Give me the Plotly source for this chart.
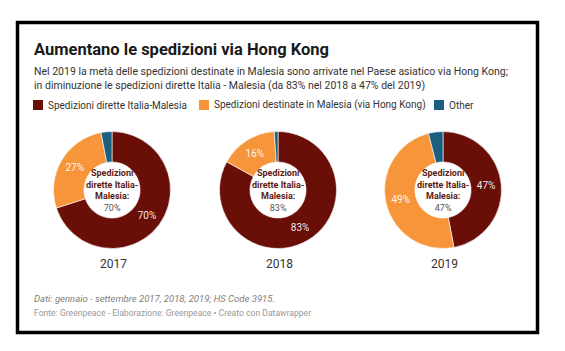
import plotly.graph_objects as go

W, H = 565, 351

years = ["2017", "2018", "2019"]
categories = ["Spedizioni dirette Italia-Malesia",
              "Spedizioni destinate in Malesia (via Hong Kong)",
              "Other"]
direct = [70, 83, 47]
via_hk = [27, 16, 49]
other = [3, 1, 4]

colors = ["#6a0f07", "#f7953b", "#1b5f80"]

title = "Aumentano le spedizioni via Hong Kong"
subtitle1 = "Nel 2019 la metà delle spedizioni destinate in Malesia sono arrivate nel Paese asiatico via Hong Kong;"
subtitle2 = "in diminuzione le spedizioni dirette Italia - Malesia (da 83% nel 2018 a 47% del 2019)"
note = "Dati: gennaio - settembre 2017, 2018, 2019; HS Code 3915."
source = "Fonte: Greenpeace - Elaborazione: Greenpeace • Creato con Datawrapper"

FONT = "Roboto"


def px(x):
    return x / W


def py(y):
    return 1 - y / H


centers_x = [112, 278, 443]
center_y = 190
diam = 117

annotations = []


def add_text(x, y, text, size, color, bold=False, italic=False, xanchor="left"):
    t = text
    if bold:
        t = f"<b>{t}</b>"
    if italic:
        t = f"<i>{t}</i>"
    annotations.append(dict(x=px(x), y=py(y), xref="paper", yref="paper",
                            text=t, showarrow=False, xanchor=xanchor,
                            yanchor="middle",
                            font=dict(family=FONT, size=size, color=color)))


fig = go.Figure()
for i, yr in enumerate(years):
    vals = [direct[i], via_hk[i], other[i]]
    cx = centers_x[i]
    dom_x = [px(cx - diam / 2), px(cx + diam / 2)]
    dom_y = [py(center_y + diam / 2), py(center_y - diam / 2)]
    fig.add_trace(go.Pie(
        labels=categories,
        values=vals,
        text=[f"{v}%" if v >= 5 else "" for v in vals],
        textinfo="text",
        textposition="inside",
        insidetextorientation="horizontal",
        textfont=dict(family=FONT, size=10, color="rgba(255,255,255,0.92)"),
        hole=0.48,
        sort=False,
        direction="clockwise",
        rotation=0,
        marker=dict(colors=colors, line=dict(color="white", width=0.6)),
        domain=dict(x=dom_x, y=dom_y),
        showlegend=False,
        hoverinfo="skip",
    ))
    center_text = ("<b>Spedizioni</b><br><b>dirette Italia-</b><br><b>Malesia:</b><br>"
                   f"<span style='color:#555555'>{direct[i]}%</span>")
    annotations.append(dict(x=(dom_x[0] + dom_x[1]) / 2, y=(dom_y[0] + dom_y[1]) / 2,
                            xref="paper", yref="paper", text=center_text,
                            showarrow=False, xanchor="center", yanchor="middle",
                            align="center",
                            font=dict(family=FONT, size=9, color="#5c1a12")))

add_text(32, 49, title, 16.5, "#1a1a1a", bold=True)
add_text(32, 72, subtitle1, 10.5, "#333333")
add_text(32, 85, subtitle2, 10.5, "#333333")

# legend
legend_sq_x = [33, 199, 434]
legend_y = 105
shapes = []
for i, cat in enumerate(categories):
    x0 = legend_sq_x[i]
    shapes.append(dict(type="rect", xref="paper", yref="paper",
                       x0=px(x0), x1=px(x0 + 10), y0=py(legend_y + 5), y1=py(legend_y - 5),
                       fillcolor=colors[i], line=dict(width=0)))
    add_text(x0 + 13, legend_y, cat, 10, "#333333")

for i, yr in enumerate(years):
    add_text(centers_x[i] + 1, 264, yr, 12, "#333333", xanchor="center")

add_text(32, 298, note, 9.5, "#808080", italic=True)
add_text(32, 313, source, 8.6, "#999999")

# outer frame
shapes.append(dict(type="rect", xref="paper", yref="paper",
                   x0=px(17.5), x1=px(537.5), y0=py(332.5), y1=py(22.5),
                   line=dict(color="black", width=3.5), fillcolor="rgba(0,0,0,0)"))

fig.update_layout(
    width=W, height=H,
    margin=dict(l=0, r=0, t=0, b=0),
    paper_bgcolor="white",
    plot_bgcolor="white",
    annotations=annotations,
    shapes=shapes,
    showlegend=False,
    font=dict(family=FONT),
)

fig.write_html("out.html", config={"displayModeBar": False})
